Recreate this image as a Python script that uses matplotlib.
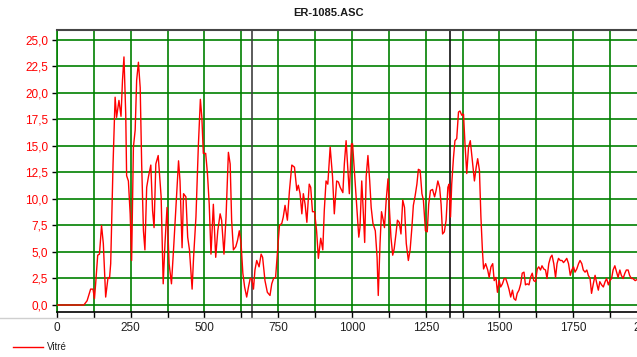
import matplotlib
matplotlib.use("Agg")
import matplotlib.pyplot as plt
from matplotlib.lines import Line2D
import numpy as np

plt.rcParams['font.family'] = ['Liberation Sans', 'DejaVu Sans']

title = "ER-1085.ASC"
series_name = "Vitré"

depth_a = [0, 91, 102, 114, 122, 127, 131, 138, 144, 151, 157, 165, 173, 178, 182, 190, 197, 202, 210, 217,
           222, 227, 233, 236, 242, 248, 253, 259, 265, 270, 276, 282, 287, 293, 298, 304, 310, 318, 324, 329,
           335, 343, 349, 353, 360, 366, 373, 380, 388, 395, 405, 412, 417, 424, 429, 437, 443, 449, 458, 463,
           471, 479, 486]
value_a = [0, 0, 0.4, 1.5, 1.5, 0.6, 2.0, 4.7, 4.8, 7.5, 5.8, 0.75, 2.6, 2.5, 3.9, 13.3, 19.6, 17.7, 19.3, 17.8,
           21.2, 23.4, 18.0, 12.2, 11.7, 8.6, 4.2, 14.9, 16.5, 21.2, 22.9, 20.5, 13.3, 7.0, 5.2, 11.1, 12.1, 13.2, 8.9, 7.3,
           13.3, 14.1, 11.7, 10.2, 2.0, 5.8, 9.2, 3.9, 2.0, 5.2, 10.2, 13.6, 11.7, 5.4, 10.5, 10.2, 6.4, 5.2, 1.5, 4.5,
           8.3, 14.9, 19.4]

depth_b = [491, 496, 504, 510, 516, 522, 530, 538, 545, 553, 558, 566, 573, 581, 587, 592, 598, 606, 612, 618,
           624, 630, 636, 643, 649, 655, 660, 666, 671, 677, 685, 692, 697, 705, 713, 722, 728, 734, 741, 748,
           754, 762, 767, 773, 781, 788, 796, 805, 813, 818, 824, 830, 835, 841, 847, 855, 860, 866, 873, 880,
           886, 894, 901, 906, 912, 918, 926, 934, 940, 948, 954, 960, 969, 974, 980, 986, 991]
value_b = [17.7, 14.3, 14.3, 12.4, 9.5, 4.8, 9.5, 4.5, 7.0, 8.6, 8.0, 4.8, 8.3, 14.4, 13.3, 8.0, 5.2, 5.5, 6.1, 7.0,
           5.8, 3.0, 1.7, 0.75, 1.7, 2.5, 2.5, 1.5, 3.3, 4.2, 3.6, 4.8, 4.5, 2.3, 1.2, 0.9, 2.0, 2.5, 2.6, 5.2,
           7.5, 7.7, 8.3, 9.4, 8.0, 10.8, 13.2, 13.0, 10.8, 11.3, 10.5, 8.6, 10.5, 9.5, 7.8, 11.4, 11.1, 8.8, 8.8, 7.0,
           4.4, 6.3, 5.2, 8.9, 11.7, 11.4, 14.9, 12.1, 8.6, 11.7, 11.6, 11.1, 10.6, 13.3, 15.5, 12.7, 10.5]

depth_c = [998, 1002, 1008, 1015, 1023, 1027, 1033, 1037, 1043, 1048, 1054, 1060, 1065, 1071, 1079, 1085, 1089, 1095, 1100, 1106,
           1110, 1116, 1122, 1126, 1132, 1138, 1143, 1149, 1154, 1160, 1166, 1172, 1178, 1184, 1191, 1197, 1203, 1208, 1214, 1220,
           1225, 1231, 1237, 1242, 1249, 1255, 1260, 1266, 1273, 1280, 1285, 1291, 1297, 1302, 1307, 1313, 1319, 1325, 1329, 1334,
           1338, 1344, 1349, 1355, 1361, 1366, 1372, 1378, 1383, 1389, 1395, 1401, 1408, 1415, 1421, 1426, 1432, 1437, 1442, 1446,
           1453]
value_c = [15.2, 15.2, 12.7, 9.9, 6.4, 7.3, 11.7, 9.5, 5.9, 12.1, 14.1, 11.7, 9.2, 7.7, 7.0, 4.5, 0.9, 5.8, 8.8, 8.0,
           7.3, 9.9, 11.9, 9.5, 6.4, 4.7, 5.3, 6.7, 8.0, 7.8, 6.7, 9.9, 9.2, 5.8, 4.2, 5.2, 7.3, 9.4, 10.3, 11.4,
           12.8, 12.7, 10.5, 9.9, 7.0, 6.9, 9.5, 10.8, 10.9, 10.2, 10.8, 11.7, 11.1, 9.5, 6.7, 6.9, 8.0, 11.1, 11.4, 8.3,
           11.4, 13.9, 15.5, 15.7, 18.2, 18.3, 17.9, 18.0, 15.2, 12.4, 14.9, 15.5, 13.6, 11.7, 13.0, 13.8, 12.7, 8.3, 5.2, 3.4,
           3.9]

depth_d = [1460, 1465, 1471, 1477, 1482, 1488, 1493, 1499, 1504, 1510, 1516, 1521, 1527, 1532, 1538, 1544, 1549, 1555, 1560, 1566,
           1572, 1577, 1583, 1588, 1594, 1600, 1605, 1611, 1616, 1622, 1628, 1633, 1639, 1644, 1650, 1656, 1661, 1667, 1673, 1678,
           1684, 1690, 1695, 1700, 1706, 1712, 1717, 1723, 1728, 1734, 1740, 1745, 1751, 1756, 1762, 1768, 1773, 1779, 1784, 1790,
           1796, 1801, 1807, 1812, 1818, 1824, 1830, 1835, 1840, 1846, 1852, 1858, 1863, 1869, 1874, 1880, 1885, 1891, 1897, 1902,
           1908, 1913, 1919, 1925, 1930, 1936, 1941, 1947, 1952, 1960, 1966]
value_d = [3.3, 2.6, 3.6, 3.9, 2.3, 2.6, 1.2, 2.3, 1.7, 2.0, 2.5, 2.5, 2.0, 1.5, 0.75, 1.4, 0.6, 0.45, 1.1, 1.4,
           2.0, 3.0, 3.1, 1.9, 2.0, 1.9, 2.6, 3.0, 2.3, 2.2, 3.4, 3.6, 3.3, 3.7, 3.4, 3.3, 2.5, 3.9, 4.5, 4.7,
           3.9, 2.6, 3.9, 4.4, 4.2, 4.2, 4.0, 4.2, 4.4, 3.9, 2.8, 3.3, 3.6, 3.1, 3.4, 3.9, 4.2, 3.9, 3.3, 3.1,
           3.3, 2.8, 2.5, 1.1, 2.0, 2.8, 2.0, 1.4, 2.2, 1.9, 1.7, 2.2, 2.5, 1.9, 2.3, 2.5, 3.3, 3.7, 3.1, 2.6,
           3.3, 2.8, 2.5, 3.0, 3.3, 3.3, 2.8, 2.5, 2.5, 2.3, 2.4]

marker_depths = [661, 1333]

x_major = [0, 250, 500, 750, 1000, 1250, 1500, 1750, 2000]
x_labels = ["0", "250", "500", "750", "1000", "1250", "1500", "1750", "2000"]
x_minor = [125, 375, 625, 875, 1125, 1375, 1625, 1875]
y_ticks = [0, 2.5, 5, 7.5, 10, 12.5, 15, 17.5, 20, 22.5, 25]
y_labels = ["0,0", "2,5", "5,0", "7,5", "10,0", "12,5", "15,0", "17,5", "20,0", "22,5", "25,0"]

depth = depth_a + depth_b + depth_c + depth_d
value = value_a + value_b + value_c + value_d

W, H = 637, 357
fig = plt.figure(figsize=(W / 100, H / 100), dpi=100)
ax = fig.add_axes([57 / W, 45 / H, 590 / W, 282 / H])
ax.set_xlim(0, 2000)
ax.set_ylim(-0.66, 25.94)

green = '#008000'
ax.set_xticks(x_major, labels=x_labels)
ax.set_xticks(x_minor, minor=True)
ax.set_yticks(y_ticks, labels=y_labels)
ax.set_axisbelow(True)
ax.grid(True, which='both', axis='x', color=green, lw=1.2)
ax.grid(True, which='major', axis='y', color=green, lw=1.2)

for i, m in enumerate(marker_depths):
    ax.axvline(m, ymin=-0.022, ymax=1, color='#404040' if i == 0 else '#101010',
               lw=1.2, clip_on=False, zorder=2)

line, = ax.plot(depth, value, color='#ff0000', lw=1.0, zorder=3, label=series_name)

for s in ['right']:
    ax.spines[s].set_visible(False)
ax.spines['top'].set_color('#454545')
ax.spines['top'].set_linewidth(1.5)
ax.spines['left'].set_color(green)
ax.spines['left'].set_linewidth(1.2)
ax.spines['bottom'].set_color('#000000')
ax.spines['bottom'].set_linewidth(1.2)

ax.tick_params(axis='x', which='both', direction='out', length=4.5, width=1, color='black',
               labelsize=8.5, labelcolor='#202020', pad=3)
ax.tick_params(axis='y', which='major', direction='out', length=3.3, width=1, color='black',
               labelsize=8.5, labelcolor='#ff0000', pad=3)

fig.add_artist(Line2D([0, 1], [1 - 318 / H, 1 - 318 / H], transform=fig.transFigure,
                      color='#cfcfcf', lw=1))

fig.text(328 / W, 1 - 13 / H, title, ha='center', va='center', fontsize=8,
         fontweight='bold', color='#1a1a1a')

leg = ax.legend(handles=[line], loc='center left', bbox_to_anchor=(13 / W, 1 - 347 / H),
                bbox_transform=fig.transFigure, frameon=False, fontsize=7,
                handlelength=3.1, handletextpad=0.4, borderpad=0, borderaxespad=0)
for t in leg.get_texts():
    t.set_color('#202020')

fig.savefig('out.png', dpi=100)
